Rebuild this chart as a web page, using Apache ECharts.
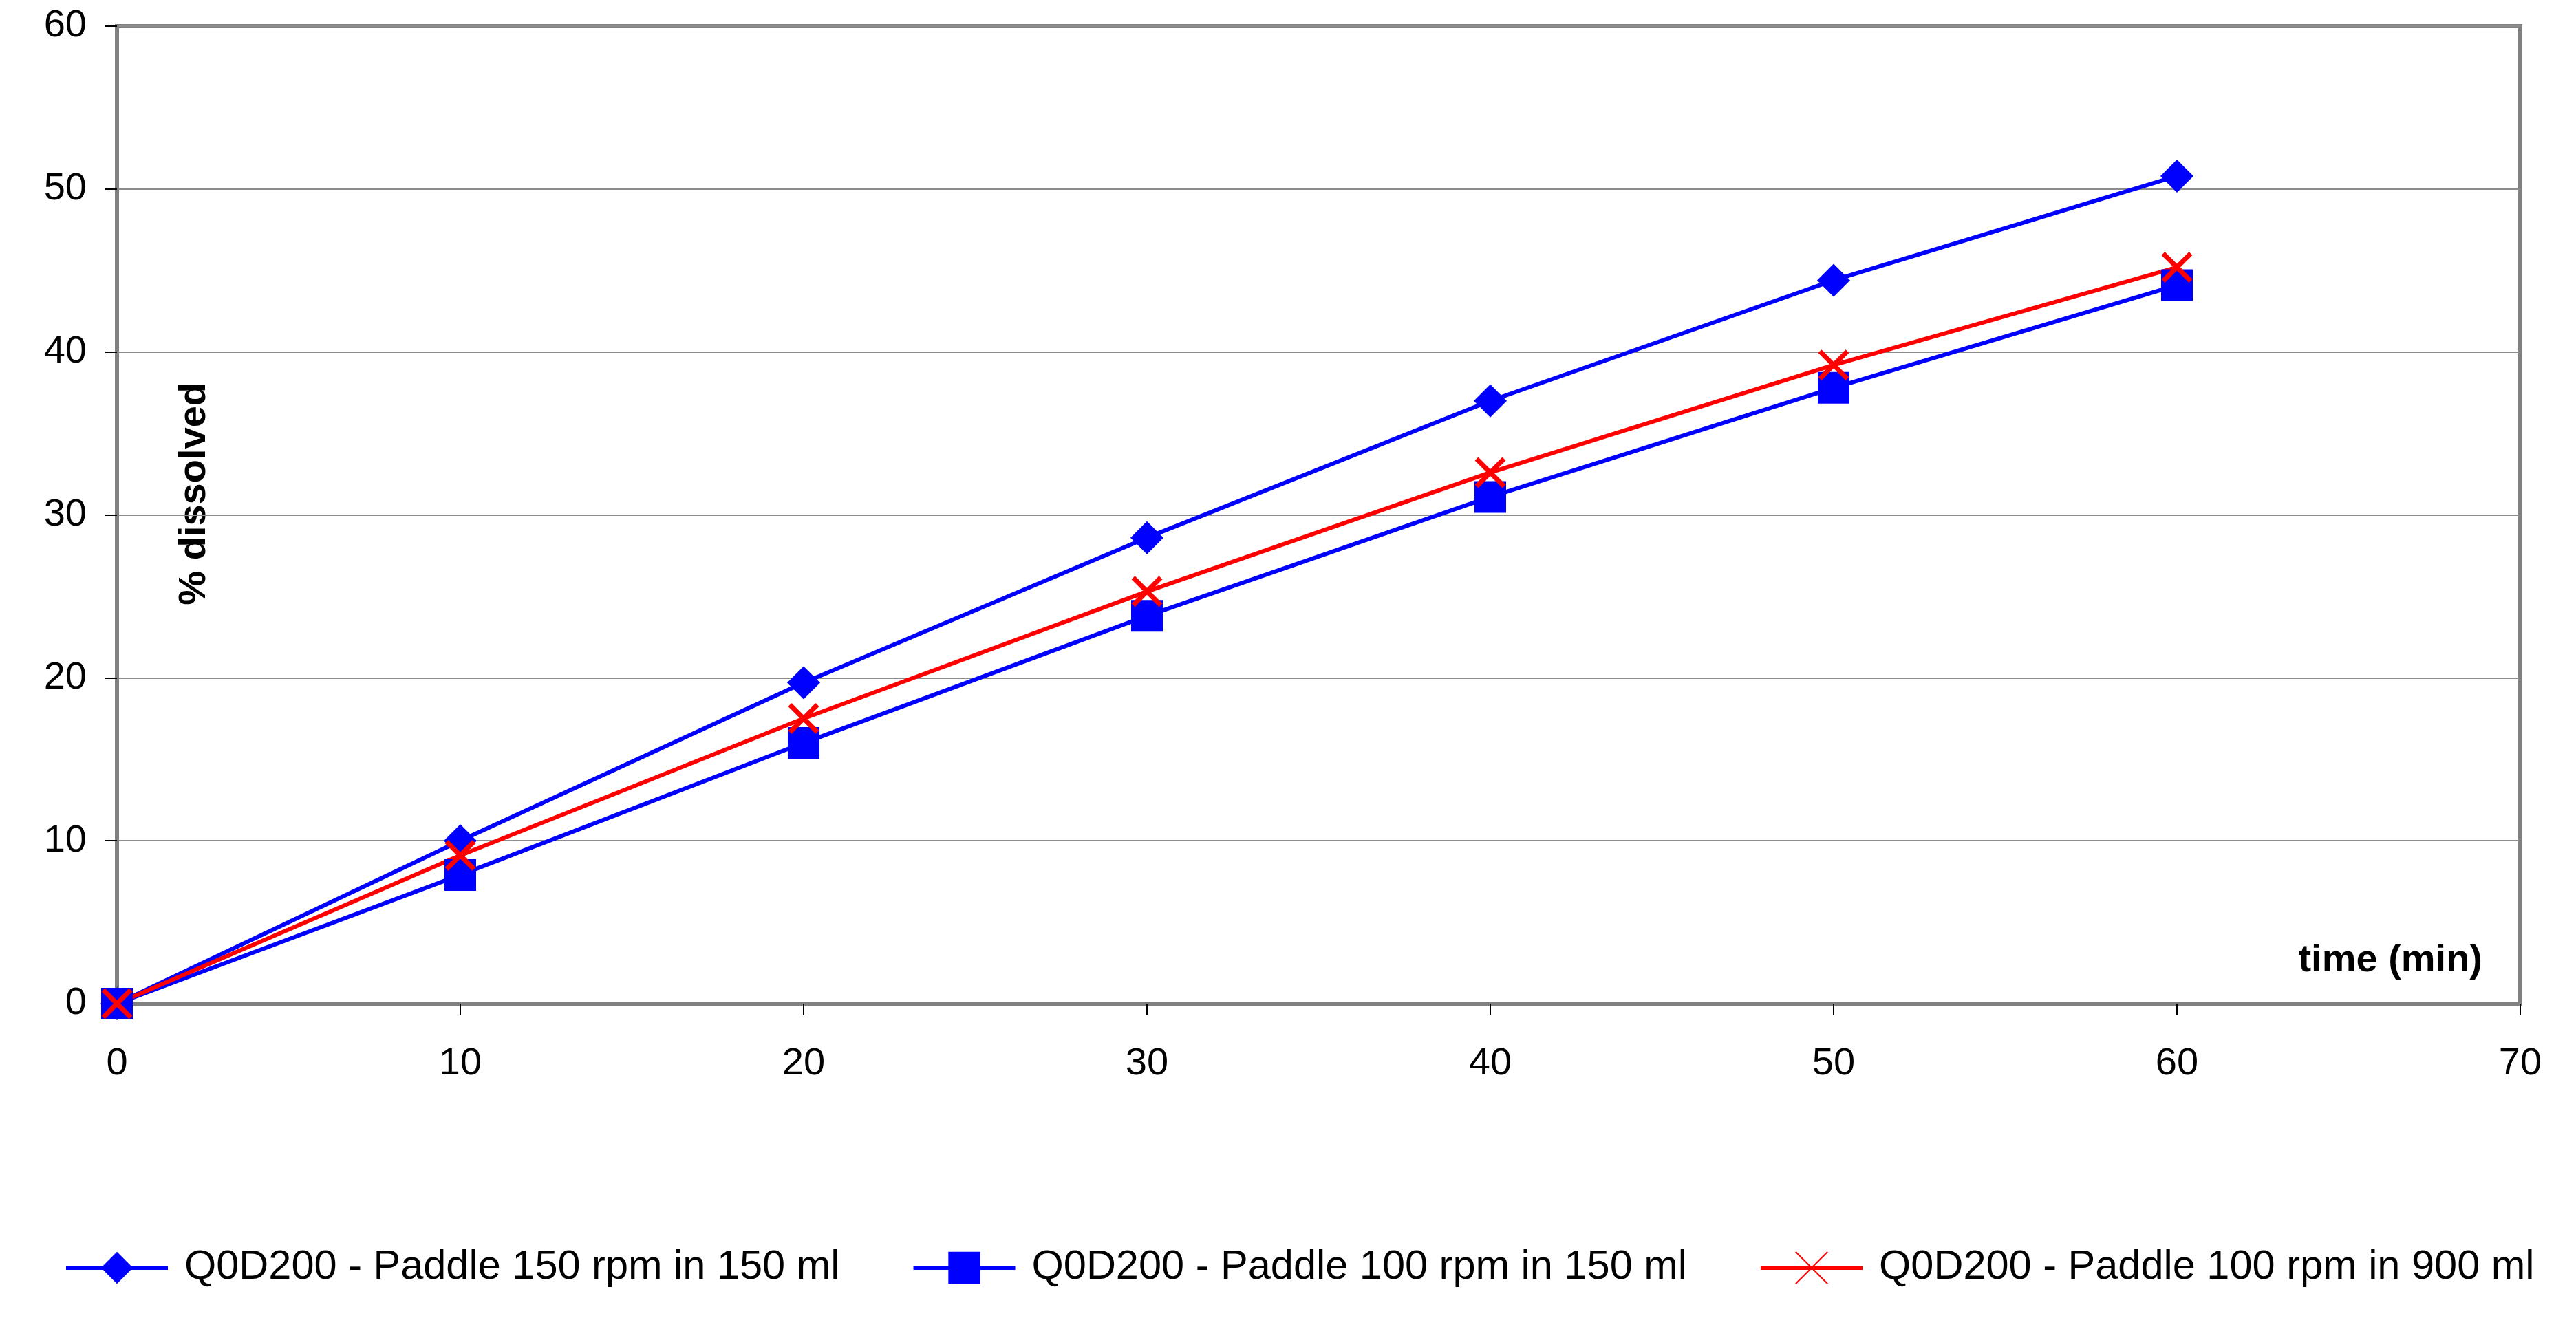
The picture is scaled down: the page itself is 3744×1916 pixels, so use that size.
<!DOCTYPE html>
<html>
<head>
<meta charset="utf-8">
<script src="https://cdn.jsdelivr.net/npm/echarts@6/dist/echarts.min.js"></script>
<style>
html,body{margin:0;padding:0;background:#fff;}
#chart{width:3744px;height:1916px;}
</style>
</head>
<body>
<div id="chart"></div>
<script>
const timeMin = [0, 10, 20, 30, 40, 50, 60];
const seriesNames = [
  'Q0D200 - Paddle 150 rpm in 150 ml',
  'Q0D200 - Paddle 100 rpm in 150 ml',
  'Q0D200 - Paddle 100 rpm in 900 ml'
];
const paddle150in150 = [0, 10.0, 19.7, 28.6, 37.0, 44.4, 50.8];
const paddle100in150 = [0, 7.9, 16.0, 23.8, 31.1, 37.8, 44.1];
const paddle100in900 = [0, 9.1, 17.5, 25.3, 32.6, 39.2, 45.2];
const yTicks = [0, 10, 20, 30, 40, 50, 60];
const xTicks = [0, 10, 20, 30, 40, 50, 60, 70];

const FONT = '"Liberation Sans", Arial, sans-serif';
const pair = (xs, ys) => xs.map((x, i) => [x, ys[i]]);

const chart = echarts.init(document.getElementById('chart'));
chart.setOption({
  animation: false,
  backgroundColor: '#ffffff',
  grid: {
    left: 170, right: 81, top: 38, bottom: 457,
    show: true, borderColor: '#808080', borderWidth: 6, backgroundColor: '#ffffff'
  },
  xAxis: {
    type: 'value',
    min: xTicks[0], max: xTicks[xTicks.length - 1], interval: 10,
    name: 'time (min)',
    nameLocation: 'end',
    nameGap: -55,
    nameTextStyle: {
      fontFamily: FONT, fontSize: 56, fontWeight: 'bold', color: '#000',
      align: 'right', verticalAlign: 'bottom', padding: [0, 0, 34, 0]
    },
    axisLine: { show: true, onZero: false, lineStyle: { color: '#808080', width: 6 } },
    axisTick: { show: true, inside: false, length: 17, lineStyle: { color: '#000', width: 2 } },
    axisLabel: { fontFamily: FONT, fontSize: 56, color: '#000', margin: 60 },
    splitLine: { show: false }
  },
  yAxis: {
    type: 'value',
    min: yTicks[0], max: yTicks[yTicks.length - 1], interval: 10,
    axisLine: { show: true, lineStyle: { color: '#808080', width: 6 } },
    axisTick: { show: true, inside: false, length: 17, lineStyle: { color: '#000', width: 2 } },
    axisLabel: { fontFamily: FONT, fontSize: 56, color: '#000', margin: 44 },
    splitLine: { show: true, lineStyle: { color: '#8c8c8c', width: 2 } }
  },
  graphic: [{
    type: 'text',
    left: 255, top: 556,
    style: {
      text: '% dissolved',
      font: 'bold 56px ' + FONT,
      fill: '#000'
    },
    rotation: Math.PI / 2,
    originX: 0, originY: 0
  }],
  legend: {
    left: 88, top: 1808,
    itemWidth: 148, itemHeight: 58, itemGap: 104,
    lineStyle: { width: 6 },
    textStyle: { fontFamily: FONT, fontSize: 59.5, color: '#000', padding: [0, 0, 0, 19] },
    data: seriesNames
  },
  series: [
    {
      name: seriesNames[0], type: 'line', data: pair(timeMin, paddle150in150),
      symbol: 'diamond', symbolSize: 48, showAllSymbol: true,
      lineStyle: { color: '#0000ff', width: 6 },
      itemStyle: { color: '#0000ff', borderWidth: 0 }
    },
    {
      name: seriesNames[1], type: 'line', data: pair(timeMin, paddle100in150),
      symbol: 'rect', symbolSize: 46, showAllSymbol: true,
      lineStyle: { color: '#0000ff', width: 6 },
      itemStyle: { color: '#0000ff', borderWidth: 0 }
    },
    {
      name: seriesNames[2], type: 'line', data: pair(timeMin, paddle100in900),
      symbol: 'path://M0,0L10,10M10,0L0,10', symbolSize: 40, showAllSymbol: true,
      lineStyle: { color: '#ff0000', width: 6 },
      itemStyle: { color: 'rgba(0,0,0,0)', borderColor: '#ff0000', borderWidth: 7 }
    }
  ]
});
</script>
</body>
</html>
